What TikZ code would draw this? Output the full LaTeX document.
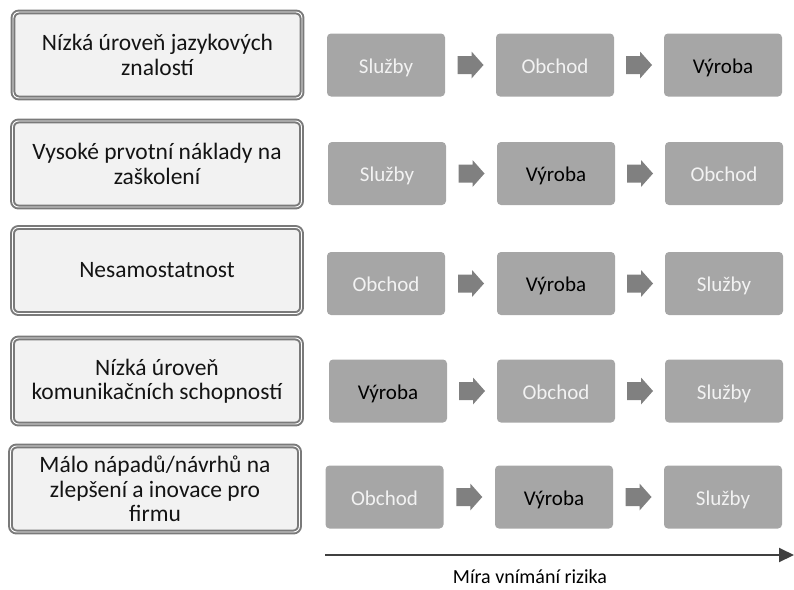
\documentclass[tikz,border=0pt]{standalone}
\usepackage{fontspec}
\setmainfont{Carlito}
\usetikzlibrary{calc,arrows.meta}
\definecolor{framegray}{HTML}{7A7A7A}
\definecolor{paneback}{HTML}{F2F2F2}
\definecolor{stepgray}{HTML}{A6A6A6}
\definecolor{pointgray}{HTML}{808080}
\definecolor{axisgray}{HTML}{404040}
\definecolor{inktext}{HTML}{141414}
\tikzset{
  barrier/.style={draw=framegray, line width=2pt, double=white, double distance=0.9pt,
    fill=paneback, rounded corners=6pt, minimum width=289pt, minimum height=86pt,
    align=center, text=inktext, inner sep=0pt,
    font=\fontsize{23.5}{24.5}\selectfont},
  sector/.style={fill=stepgray, rounded corners=4pt, minimum width=118pt, minimum height=63pt,
    inner sep=0pt, text height=17pt, text depth=1pt,
    font=\fontsize{21}{24}\selectfont, text=paneback},
  keysector/.style={sector, text=black},
}
% block arrow centred on a coordinate
\newcommand{\blockarrow}[1]{%
  \fill[pointgray] ($(#1)+(-13,-9)$) -- ($(#1)+(1,-9)$) -- ($(#1)+(1,-13.5)$)
    -- ($(#1)+(13,0)$) -- ($(#1)+(1,13.5)$) -- ($(#1)+(1,9)$) -- ($(#1)+(-13,9)$) -- cycle;}
\begin{document}
\begin{tikzpicture}[x=1pt,y=-1pt]
\useasboundingbox (0,0) rectangle (794,589);

% barriers on the left
\node[barrier] (b1) at (157.5,55)  {Nízká úroveň jazykových\\znalostí};
\node[barrier] (b2) at (157,164)   {Vysoké prvotní náklady na\\zaškolení};
\node[barrier] (b3) at (157,270.5) {Nesamostatnost};
\node[barrier] (b4) at (157,381)   {Nízká úroveň\\komunikačních schopností};
\node[barrier] (b5) at (155,489)   {Málo nápadů/návrhů na\\zlepšení a inovace pro\\firmu};

% sector orderings
\node[sector]    (r11) at (386,65)    {Služby};
\node[sector]    (r12) at (555,65)    {Obchod};
\node[keysector] (r13) at (723,65)    {Výroba};

\node[sector]    (r21) at (387,173.5) {Služby};
\node[keysector] (r22) at (556,173.5) {Výroba};
\node[sector]    (r23) at (724,173.5) {Obchod};

\node[sector]    (r31) at (386,283.5) {Obchod};
\node[keysector] (r32) at (556,283.5) {Výroba};
\node[sector]    (r33) at (724,283.5) {Služby};

\node[keysector] (r41) at (388,391)   {Výroba};
\node[sector]    (r42) at (556,391)   {Obchod};
\node[sector]    (r43) at (724,391)   {Služby};

\node[sector]    (r51) at (384.5,497) {Obchod};
\node[keysector] (r52) at (554,497)   {Výroba};
\node[sector]    (r53) at (723,497)   {Služby};

% arrows between sectors
\foreach \r in {1,...,5}{
  \coordinate (m\r a) at ($(r\r1.east)!0.5!(r\r2.west)$);
  \coordinate (m\r b) at ($(r\r2.east)!0.5!(r\r3.west)$);
  \blockarrow{m\r a}
  \blockarrow{m\r b}
}

% risk axis
\coordinate (ax0) at (325,555);
\coordinate (ax1) at (794,555);
\draw[axisgray, line width=2pt, -{Triangle[length=15pt,width=14pt]}] (ax0) -- (ax1);
\node[font=\fontsize{20}{22}\selectfont, text=black] (axl) at (530,577) {Míra vnímání rizika};
\end{tikzpicture}
\end{document}
